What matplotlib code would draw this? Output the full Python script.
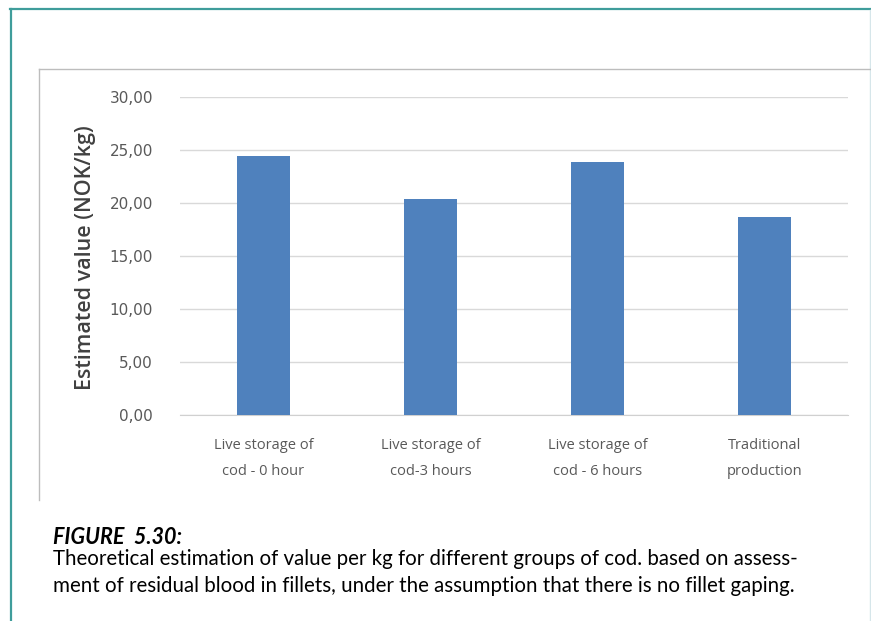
import matplotlib
matplotlib.use("Agg")
from matplotlib import pyplot as plt
from matplotlib.lines import Line2D
from matplotlib.ticker import FuncFormatter

categories = ["Live storage of\ncod - 0 hour", "Live storage of\ncod-3 hours",
              "Live storage of\ncod - 6 hours", "Traditional\nproduction"]
values = [24.4, 20.4, 23.9, 18.7]
yticks = [0, 5, 10, 15, 20, 25, 30]

caption_title = "FIGURE  5.30:"
caption_lines = ["Theoretical estimation of value per kg for different groups of cod. based on assess-",
                 "ment of residual blood in fillets, under the assumption that there is no fillet gaping."]

W, H = 871, 621


def main():
    fig = plt.figure(figsize=(W / 100, H / 100), dpi=100)
    fig.patch.set_facecolor("white")

    def fx(px):
        return px / W

    def fy(py):
        return 1 - py / H

    # page frame (teal) and chart box (gray)
    teal = "#3f9d9b"
    fig.add_artist(Line2D([fx(10.5), fx(10.5)], [fy(9), 0], color=teal, lw=1.6))
    fig.add_artist(Line2D([fx(10), 1], [fy(9), fy(9)], color=teal, lw=1.6))
    fig.add_artist(Line2D([fx(869.5), fx(869.5)], [fy(10), 0], color="#d6e6ea", lw=1))
    fig.add_artist(Line2D([fx(39), fx(39)], [fy(69), fy(500)], color="#bdbdbd", lw=1))
    fig.add_artist(Line2D([fx(39), 1], [fy(69), fy(69)], color="#bdbdbd", lw=1))

    ax = fig.add_axes([fx(180), fy(415), fx(848) - fx(180), fy(97) - fy(415)])
    x = range(len(categories))
    ax.bar(x, values, width=0.32, color="#4f81bd", zorder=3)
    ax.set_xlim(-0.5, len(categories) - 0.5)
    ax.set_ylim(0, 30)
    ax.set_yticks(yticks)
    ax.yaxis.set_major_formatter(FuncFormatter(lambda v, p: f"{v:.2f}".replace(".", ",")))
    ax.grid(axis="y", color="#d9d9d9", lw=1, zorder=0)
    for s in ["top", "right", "left"]:
        ax.spines[s].set_visible(False)
    ax.spines["bottom"].set_color("#d0d0d0")
    ax.tick_params(axis="both", length=0, colors="#595959")
    ax.tick_params(axis="y", pad=19.5, labelsize=11)
    ax.tick_params(axis="x", pad=16.5, labelsize=10.5)
    ax.set_xticks(list(x))
    ax.set_xticklabels(categories, linespacing=2.0)
    for lab in ax.get_yticklabels():
        lab.set_fontfamily("DejaVu Sans")
        lab.set_color("#595959")
    for lab in ax.get_xticklabels():
        lab.set_fontfamily("Open Sans")
        lab.set_color("#595959")

    fig.text(fx(85), fy(258), "Estimated value (NOK/kg)", rotation=90,
             ha="center", va="center", fontsize=15.5, color="#404040",
             family="Open Sans", fontweight="semibold")

    fig.text(fx(53), fy(537), caption_title, fontsize=15.5, fontweight="bold",
             style="italic", family="Lato", va="center", color="black")
    fig.text(fx(53), fy(559), caption_lines[0], fontsize=14.8, family="Lato",
             va="center", color="black")
    fig.text(fx(53), fy(586), caption_lines[1], fontsize=14.8, family="Lato",
             va="center", color="black")

    fig.savefig("out.png", dpi=100)


if __name__ == '__main__':
    main()
